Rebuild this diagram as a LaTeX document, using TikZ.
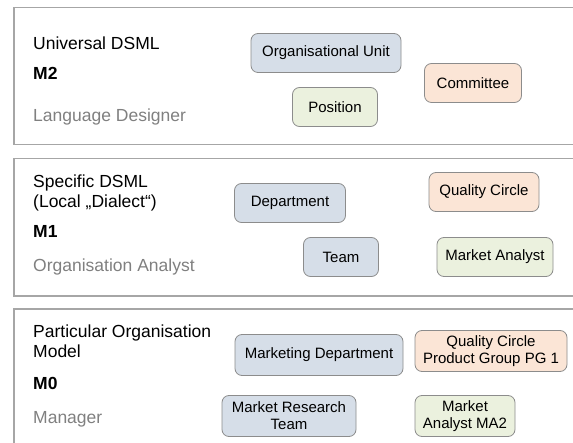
\documentclass[tikz,border=0pt]{standalone}
\usepackage{fontspec}
\setmainfont{Liberation Sans}
\usetikzlibrary{positioning}
\definecolor{framegray}{HTML}{A6A6A6}
\definecolor{boxgray}{HTML}{8C8C8C}
\definecolor{rolegray}{HTML}{808080}
\definecolor{unitblue}{HTML}{D6DEE8}
\definecolor{boardorange}{HTML}{FBE5D6}
\definecolor{jobgreen}{HTML}{EBF1DE}

\begin{document}
\begin{tikzpicture}[
  x=1pt, y=-1pt,
  layer/.style={draw=framegray, line width=1.1pt},
  elem/.style={draw=boxgray, line width=0.8pt, rounded corners=7pt, minimum height=39pt,
    inner sep=0pt, align=center, font=\fontsize{15}{17}\selectfont},
  unit/.style={elem, fill=unitblue},
  board/.style={elem, fill=boardorange},
  job/.style={elem, fill=jobgreen},
  lbl/.style={anchor=west, align=left, inner sep=0pt, font=\fontsize{17.5}{20.5}\selectfont},
  lvl/.style={lbl, font=\fontsize{17.5}{20.5}\selectfont\bfseries},
  role/.style={lbl, text=rolegray}
]
\useasboundingbox (0,0) rectangle (573,443);
\fill[white] (0,0) rectangle (573,443);

\draw[layer] (14,7.5) rectangle (590,144.5);
\draw[layer] (14,158.5) rectangle (590,296);
\draw[layer] (14,309) rectangle (590,460);

\node[lbl] (univ) at (33,43) {Universal DSML};
\node[lvl] (m2) at (33,73) {M2};
\node[role] (designer) at (33,117) {Language Designer};
\node[unit, minimum width=150pt] (ou) at (326,53) {Organisational Unit};
\node[board, minimum width=97pt] (com) at (473,83) {Committee};
\node[job, minimum width=85pt] (pos) at (335,107) {Position};

\node[lbl] (spec) at (33,193) {Specific DSML\\(Local „Dialect“)};
\node[lvl] (m1) at (33,231) {M1};
\node[role] (analyst) at (33,267) {Organisation Analyst};
\node[unit, minimum width=111pt] (dep) at (290,203) {Department};
\node[board, minimum width=110pt] (qc) at (484,192) {Quality Circle};
\node[unit, minimum width=75pt] (team) at (341,257) {Team};
\node[job, minimum width=116pt] (ma) at (495,257) {Market Analyst};

\node[lbl] (part) at (33,341) {Particular Organisation\\Model};
\node[lvl] (m0) at (33,383) {M0};
\node[role] (manager) at (33,419) {Manager};
\node[unit, minimum width=168pt, minimum height=41pt] (mdep) at (319,355) {Marketing Department};
\node[board, minimum width=152pt, minimum height=41pt] (qcpg) at (491,351) {Quality Circle\\Product Group PG 1};
\node[unit, minimum width=134pt, minimum height=41pt] (mrt) at (289,416) {Market Research\\Team};
\node[job, minimum width=100pt, minimum height=41pt] (mama) at (465,416) {Market\\Analyst MA2};
\end{tikzpicture}
\end{document}
